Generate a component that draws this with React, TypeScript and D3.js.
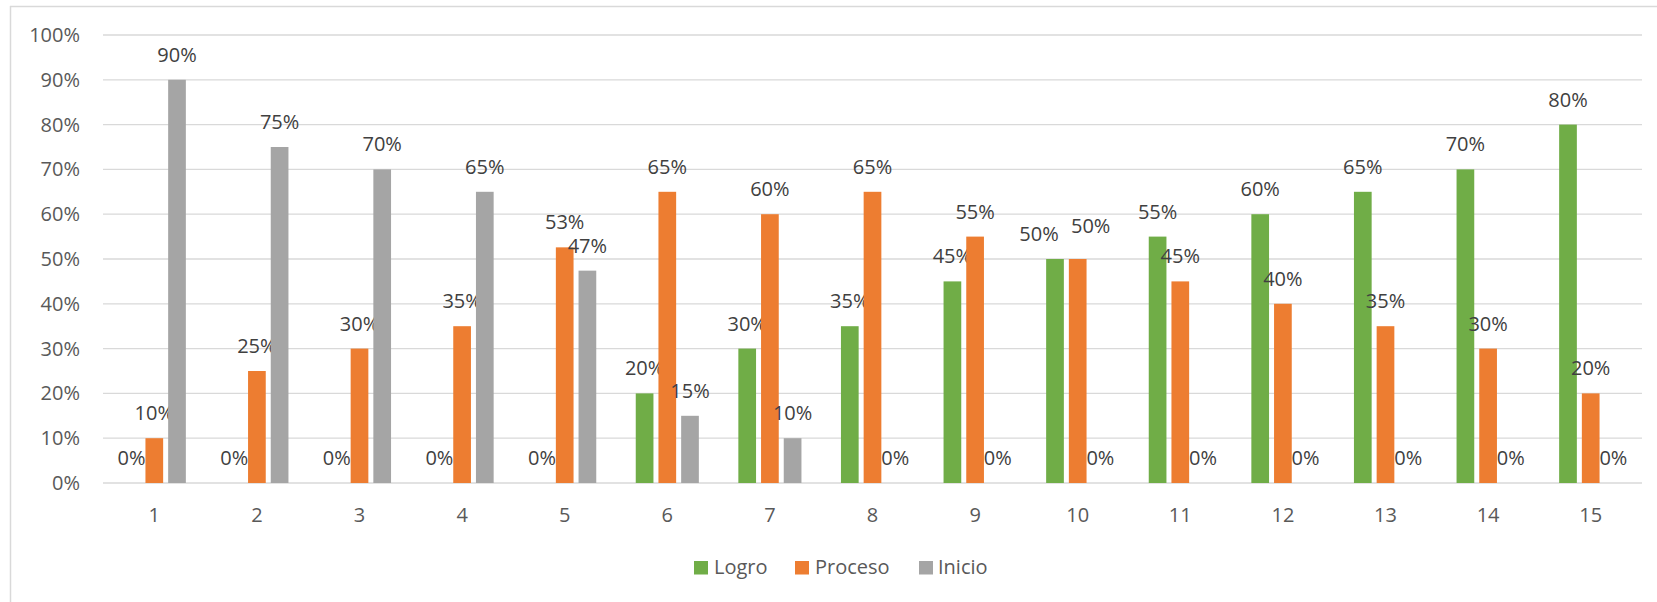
import React from "react";
import * as d3 from "d3";

const categories = ["1","2","3","4","5","6","7","8","9","10","11","12","13","14","15"];
const seriesNames = ["Logro", "Proceso", "Inicio"];
const logro = [0,0,0,0,0,20,30,35,45,50,55,60,65,70,80];
const proceso = [10,25,30,35,52.6,65,60,65,55,50,45,40,35,30,20];
const inicio = [90,75,70,65,47.4,15,10,0,0,0,0,0,0,0,0];
const yTicks = [0,10,20,30,40,50,60,70,80,90,100];
const colors = ["#70AD47", "#ED7D31", "#A5A5A5"];

export default function App() {
  const W = 1657, H = 602;
  const left = 103, right = 1642, top = 35, bottom = 483;
  const x = d3.scaleBand<string>().domain(categories).range([left, right]);
  const y = d3.scaleLinear().domain([0, 100]).range([bottom, top]);
  const series = [logro, proceso, inicio];
  const barW = 17.7;
  const pitch = 22.7;
  const font = "'Open Sans', sans-serif";
  const legendItems = [
    { name: seriesNames[0], sx: 694, tx: 714 },
    { name: seriesNames[1], sx: 795, tx: 815 },
    { name: seriesNames[2], sx: 919, tx: 938 },
  ];

  // label positions with simple collision avoidance between neighbouring labels
  const labelPos = (i: number, k: number, bx: number) => {
    const v = series[k][i];
    let lx = bx;
    let ly = y(v) - 18;
    const prev = k > 0 ? series[k - 1][i] : null;
    const next = k < 2 ? series[k + 1][i] : null;
    if (next !== null && v > 0 && next > 0 && Math.abs(y(v) - y(next)) < 6) {
      lx -= 16;
    }
    if (prev !== null && v > 0 && prev > 0 && Math.abs(y(v) - y(prev)) < 6) {
      lx += 13;
      ly -= 8;
    }
    return [lx, ly];
  };

  return (
    <svg width={W} height={H} style={{ position: "absolute", left: 0, top: 0 }} fontFamily={font}>
      <rect x={0} y={0} width={W} height={H} fill="#fff" />
      <line x1={10} x2={W} y1={6.5} y2={6.5} stroke="#D9D9D9" strokeWidth={1.5} />
      <line x1={10.5} x2={10.5} y1={6} y2={H} stroke="#D9D9D9" strokeWidth={1.5} />
      {yTicks.map((t) => (
        <g key={t}>
          <line x1={left} x2={right} y1={y(t)} y2={y(t)} stroke="#D9D9D9" strokeWidth={1.3} />
          <text x={80} y={y(t) + 7} textAnchor="end" fontSize={20} fill="#595959">{t}%</text>
        </g>
      ))}
      {categories.map((c, i) => {
        const cx = (x(c) as number) + x.bandwidth() / 2;
        return (
          <g key={c}>
            {series.map((s, k) => {
              const bx = cx + (k - 1) * pitch;
              const v = s[i];
              const [lx, ly] = labelPos(i, k, bx);
              return (
                <g key={k}>
                  {v > 0 && (
                    <rect x={bx - barW / 2} y={y(v)} width={barW} height={y(0) - y(v)} fill={colors[k]} />
                  )}
                  <text x={lx} y={ly} textAnchor="middle" fontSize={20} fill="#404040">
                    {Math.round(v)}%
                  </text>
                </g>
              );
            })}
            <text x={cx} y={522} textAnchor="middle" fontSize={20} fill="#595959">{c}</text>
          </g>
        );
      })}
      {legendItems.map((l, k) => (
        <g key={l.name}>
          <rect x={l.sx} y={561} width={14} height={13.5} fill={colors[k]} />
          <text x={l.tx} y={574} fontSize={20} fill="#595959">{l.name}</text>
        </g>
      ))}
    </svg>
  );
}
